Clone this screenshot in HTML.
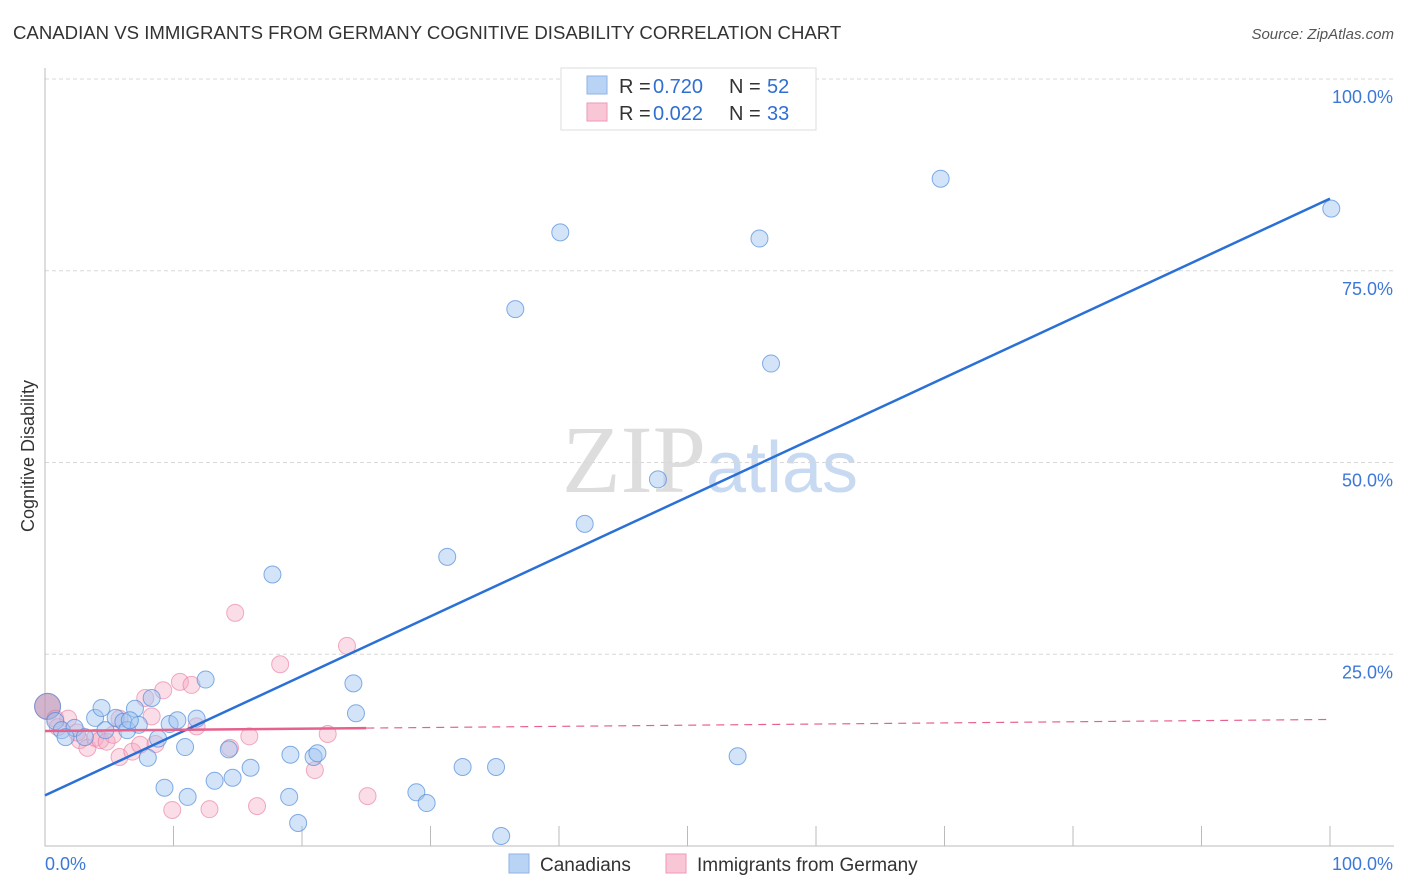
<!DOCTYPE html>
<html><head><meta charset="utf-8"><style>
body{margin:0;background:#fff;font-family:"Liberation Sans",sans-serif}
</style></head><body>
<svg id="c" width="1406" height="892" style="display:block">
<text x="13" y="39" font-size="18.6" fill="#333">CANADIAN VS IMMIGRANTS FROM GERMANY COGNITIVE DISABILITY CORRELATION CHART</text>
<text x="1394" y="39" font-size="15" fill="#555" font-style="italic" text-anchor="end">Source: ZipAtlas.com</text>
<text x="34" y="456" font-size="18" fill="#333" transform="rotate(-90 34 456)" text-anchor="middle">Cognitive Disability</text>
<text x="710" y="492" font-size="96" fill="#ddd" text-anchor="middle" font-family="Liberation Serif,serif">ZIP<tspan fill="#c8daf2" font-family="Liberation Sans,sans-serif" font-size="72">atlas</tspan></text>
<g id="grid"></g><g id="pts"></g><g id="lines"></g>
<g>
<rect x="561" y="68" width="255" height="62" fill="#fff" stroke="#ddd"/>
<rect x="587" y="76" width="20" height="18" fill="#b9d3f5" stroke="#8fb3e6"/>
<rect x="587" y="103" width="20" height="18" fill="#f9c6d6" stroke="#ee9ab5"/>
<text x="619" y="93" font-size="20" fill="#333">R =</text>
<text x="653" y="93" font-size="20" fill="#2f6fd1">0.720</text>
<text x="729" y="93" font-size="20" fill="#333">N =</text>
<text x="767" y="93" font-size="20" fill="#2f6fd1">52</text>
<text x="619" y="120" font-size="20" fill="#333">R =</text>
<text x="653" y="120" font-size="20" fill="#2f6fd1">0.022</text>
<text x="729" y="120" font-size="20" fill="#333">N =</text>
<text x="767" y="120" font-size="20" fill="#2f6fd1">33</text>
</g>
<g>
<rect x="509" y="854" width="20" height="19" fill="#b9d3f5" stroke="#8fb3e6"/>
<text x="540" y="871" font-size="19" fill="#333">Canadians</text>
<rect x="666" y="854" width="20" height="19" fill="#f9c6d6" stroke="#ee9ab5"/>
<text x="697" y="871" font-size="19" fill="#333">Immigrants from Germany</text>
</g>
<text x="45" y="870" font-size="18" fill="#3c78d8">0.0%</text>
<text x="1393" y="870" font-size="18" fill="#3c78d8" text-anchor="end">100.0%</text>
</svg>
<script>
const blueX=[0.2,0.8,1.3,2.3,3.1,3.9,4.4,4.7,5.5,6.1,6.4,7.0,7.3,8.3,8.8,8.0,9.3,9.7,10.3,10.9,11.1,11.8,12.5,13.2,14.3,14.6,16.0,17.7,19.0,19.1,19.7,20.9,21.2,24.0,24.2,28.9,29.7,31.3,32.5,35.1,35.5,36.6,40.1,42.0,47.7,53.9,55.6,56.5,69.7,100.1,1.6,6.6];
const blueY=[18.2,16.3,15.1,15.4,14.2,16.7,18.0,15.1,16.7,16.2,15.1,17.9,15.8,19.3,14.0,11.5,7.6,15.9,16.4,12.9,6.4,16.6,21.7,8.5,12.6,8.9,10.2,35.4,6.4,11.9,3.0,11.6,12.1,21.2,17.3,7.0,5.6,37.7,10.3,10.3,1.3,70.0,80.0,42.0,47.8,11.7,79.2,62.9,87.0,83.1,14.2,16.4];
const pinkX=[0.2,0.8,1.8,2.7,3.3,3.9,4.3,4.8,5.3,5.8,6.8,7.4,7.8,8.3,8.6,9.2,9.9,10.5,11.4,11.8,12.8,14.4,14.8,15.9,16.5,18.3,21.0,22.0,23.5,25.1,5.8,1.0,2.5];
const pinkY=[18.2,16.6,16.6,13.8,12.8,14.1,13.8,13.6,14.5,11.6,12.3,13.2,19.3,16.9,13.3,20.3,4.7,21.4,21.0,15.6,4.8,12.8,30.4,14.3,5.2,23.7,9.9,14.6,26.1,6.5,16.6,15.5,14.8];
const yTicks=[25,50,75,100];
const xTicks=[10,20,30,40,50,60,70,80,90,100];
const blueTrend=[6.6,84.4], pinkTrend=[15.0,16.5];
const X=v=>45+v*12.85, Y=v=>846-v*7.67;
const NS='http://www.w3.org/2000/svg';
function mk(p,t,a){const e=document.createElementNS(NS,t);for(const k in a)e.setAttribute(k,a[k]);p.appendChild(e);return e;}
const g=document.getElementById('grid');
yTicks.forEach(t=>{
 const l=mk(g,'line',{x1:45,x2:1394,y1:Y(t),y2:Y(t),stroke:'#d8d8d8','stroke-dasharray':'4,3'});
 
 
 const tx=mk(g,'text',{x:1393,y:Y(t)+24,'font-size':18,fill:'#3c78d8','text-anchor':'end'});
 tx.textContent=t.toFixed(1)+'%';
 
 
});
xTicks.forEach(t=>{
 const l=mk(g,'line',{x1:X(t),x2:X(t),y1:826,y2:846,stroke:'#bbb'});
 
 
});
const ax=mk(g,'path',{d:'M45 68V846H1394',fill:'none',stroke:'#bbb'});


const p=document.getElementById('pts');
pinkX.forEach((x,i)=>{
 const c=mk(p,'circle',{cx:X(x),cy:Y(pinkY[i]),r:i==0?13:8.5,fill:'rgba(246,170,195,0.4)',stroke:'rgba(232,120,155,0.6)'});
 
 
});
blueX.forEach((x,i)=>{
 const c=mk(p,'circle',{cx:X(x),cy:Y(blueY[i]),r:i==0?13:8.5,fill:i==0?'rgba(170,140,180,0.5)':'rgba(160,195,240,0.45)',stroke:'rgba(80,140,220,0.7)'});
 
 
});
const L=document.getElementById('lines');
const bl=mk(L,'line',{x1:X(0),y1:Y(blueTrend[0]),x2:X(100),y2:Y(blueTrend[1]),stroke:'#2a70d6','stroke-width':2.5});


const pm=pinkTrend[0]+(pinkTrend[1]-pinkTrend[0])*0.25;
const ps=mk(L,'line',{x1:X(0),y1:Y(pinkTrend[0]),x2:X(25),y2:Y(pm),stroke:'#e5628c','stroke-width':2.5});


const pd=mk(L,'line',{x1:X(25),y1:Y(pm),x2:X(100),y2:Y(pinkTrend[1]),stroke:'#e5628c','stroke-width':1.2,'stroke-dasharray':'8,6'});


</script>
</body></html>
